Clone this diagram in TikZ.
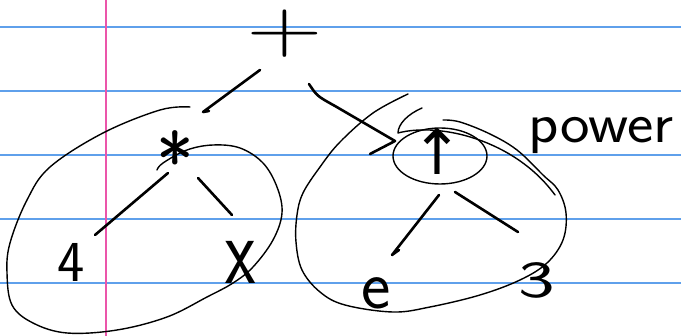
\documentclass[tikz,border=0pt]{standalone}
\usepackage{fontspec}
\usepackage{graphicx}
\newfontfamily\arrowfont{DejaVu Sans}
\definecolor{ruleblue}{RGB}{95,160,235}
\definecolor{marginpink}{RGB}{235,85,170}
\tikzset{
  ink/.style={line width=2.6pt, line cap=round, line join=round, black},
  pen/.style={line width=1.4pt, line cap=round, line join=round, black},
  glyph/.style={inner sep=0pt, outer sep=0pt, text=black},
  paperline/.style={ruleblue, line width=1.3pt},
}
\begin{document}
\begin{tikzpicture}[x=1pt,y=-1pt]
\useasboundingbox[fill=white] (0,0) rectangle (681,336);
% lined paper
\foreach \yy in {27,91,155,219,283} \draw[paperline] (0,\yy) -- (681,\yy);
\draw[marginpink, line width=1.6pt] (106,0) -- (106,336);

% nodes
\node[glyph, font=\sffamily\fontsize{105}{105}\selectfont] (plus) at (285,34) {\scalebox{1}[0.72]{+}};
\node[glyph, font=\sffamily\fontsize{80}{80}\selectfont] (times) at (175,147) {\raisebox{-0.55em}[0pt][0pt]{*}};
\node[glyph, font=\sffamily\fontsize{58}{58}\selectfont] (four) at (71,262) {4};
\node[glyph, font=\sffamily\fontsize{70}{70}\selectfont] (ex) at (241,262) {\scalebox{1}[1.4]{x}};
\node[glyph, font=\arrowfont\fontsize{62}{62}\selectfont] (up) at (437,152) {↑};
\node[glyph, font=\sffamily\fontsize{70}{70}\selectfont] (e) at (376,293) {e};
\node[glyph, font=\sffamily\fontsize{52}{52}\selectfont] (three) at (537,280) {\scalebox{1.5}[1]{3}};
\node[glyph, font=\sffamily\fontsize{57}{57}\selectfont, anchor=base] (power) at (601,143) {\scalebox{1.1}[1]{power}};

% circle round the power operator
\draw[pen] (440,156) ellipse [x radius=47, y radius=28];

% connectors
\draw[ink] ([shift={(-25,36)}]plus.center) -- ([shift={(28,-35)}]times.center) -- ++(6,-1);
\draw[ink] ([shift={(24,50)}]plus.center) .. controls ++(8,12) .. ([shift={(-102,-46)}]up.center)
  -- ([shift={(-42,-11)}]up.center) -- ++(-25,13);
\draw[ink] ([shift={(-7,26)}]times.center) -- ([shift={(24,-27)}]four.center);
\draw[ink] ([shift={(23,31)}]times.center) -- ([shift={(-9,-47)}]ex.center);
\draw[ink] ([shift={(2,43)}]up.center) -- ([shift={(16,-38)}]e.center) -- ++(7,-5);
\draw[ink] ([shift={(18,40)}]up.center) -- ([shift={(-19,-48)}]three.center);

% grouping loops
\draw[pen] plot[smooth, tension=0.6] coordinates {(190,107) (160,110) (103,133) (50,167) (27,200) (10,243) (7,273) (12,305) (33,323) (67,333) (117,330) (167,317) (207,297) (233,283) (253,267) (273,240) (282,213) (277,187) (263,163) (240,148) (213,145) (187,150) (163,163) (157,170)};
\draw[pen] plot[smooth, tension=0.6] coordinates {(408,94) (373,113) (340,142) (320,167) (303,193) (297,215) (296,242) (302,270) (320,292) (345,305) (393,312) (430,307) (480,295) (520,280) (547,263) (563,240) (566,213) (558,190) (543,175) (517,150) (490,134) (460,122) (443,120)};
\draw[pen] (422,108) .. controls (408,114) and (398,124) .. (398,133)
  .. controls (440,122) and (515,140) .. (555,195);
\end{tikzpicture}
\end{document}
